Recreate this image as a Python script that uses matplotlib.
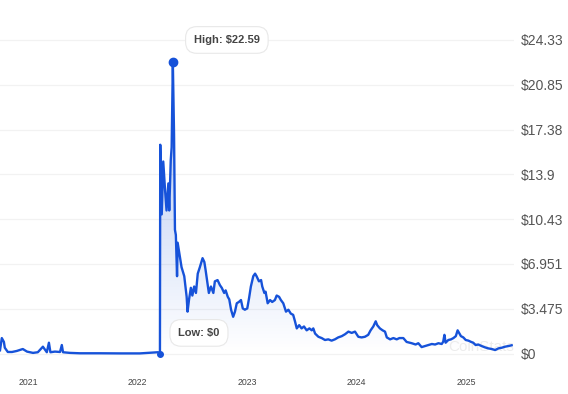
import matplotlib
matplotlib.use('Agg')
import numpy as np
import pandas as pd
import matplotlib.pyplot as plt
import matplotlib.dates as mdates
from matplotlib.patches import Polygon

plt.rcParams['font.family'] = ['Liberation Sans', 'DejaVu Sans']

# price history
dates = [
    '2020-09-30', '2020-10-06', '2020-10-13', '2020-10-16', '2020-10-26', '2020-11-09',
    '2020-11-25', '2020-12-15', '2020-12-29', '2021-01-18', '2021-02-03', '2021-02-20',
    '2021-02-27', '2021-03-05', '2021-03-12', '2021-03-17', '2021-04-01', '2021-04-18',
    '2021-04-24', '2021-04-28', '2021-05-21', '2021-06-23', '2021-08-29', '2021-11-04',
    '2022-01-09', '2022-03-10', '2022-03-17', '2022-03-18', '2022-03-23', '2022-03-28',
    '2022-04-03', '2022-04-08', '2022-04-14', '2022-04-17', '2022-04-22', '2022-04-25',
    '2022-04-29', '2022-05-03', '2022-05-06', '2022-05-09', '2022-05-13', '2022-05-15',
    '2022-05-19', '2022-05-28', '2022-06-06', '2022-06-14', '2022-06-17', '2022-06-22',
    '2022-06-28', '2022-07-03', '2022-07-09', '2022-07-15', '2022-07-21', '2022-07-28',
    '2022-08-06', '2022-08-12', '2022-08-16', '2022-08-22', '2022-08-27', '2022-09-03',
    '2022-09-11', '2022-09-16', '2022-09-25', '2022-10-03', '2022-10-09', '2022-10-17',
    '2022-10-22', '2022-10-29', '2022-11-03', '2022-11-09', '2022-11-16', '2022-11-22',
    '2022-11-28', '2022-12-05', '2022-12-12', '2022-12-18', '2022-12-25', '2023-01-02',
    '2023-01-08', '2023-01-14', '2023-01-22', '2023-01-28', '2023-02-02', '2023-02-10',
    '2023-02-17', '2023-02-21', '2023-02-28', '2023-03-04', '2023-03-11', '2023-03-19',
    '2023-03-26', '2023-04-04', '2023-04-10', '2023-04-18', '2023-04-24', '2023-05-02',
    '2023-05-11', '2023-05-19', '2023-05-27', '2023-06-04', '2023-06-10', '2023-06-16',
    '2023-06-24', '2023-07-02', '2023-07-10', '2023-07-19', '2023-07-28', '2023-08-05',
    '2023-08-10', '2023-08-16', '2023-08-27', '2023-09-07', '2023-09-18', '2023-09-29',
    '2023-10-10', '2023-10-21', '2023-11-01', '2023-11-13', '2023-11-24', '2023-12-05',
    '2023-12-16', '2023-12-27', '2024-01-07', '2024-01-18', '2024-01-29', '2024-02-09',
    '2024-02-17', '2024-02-26', '2024-03-05', '2024-03-10', '2024-03-19', '2024-03-28',
    '2024-04-05', '2024-04-11', '2024-04-22', '2024-05-03', '2024-05-14', '2024-05-23',
    '2024-06-05', '2024-06-16', '2024-07-03', '2024-07-16', '2024-07-25', '2024-08-05',
    '2024-08-16', '2024-08-27', '2024-09-08', '2024-09-19', '2024-09-30', '2024-10-11',
    '2024-10-16', '2024-10-20', '2024-10-24', '2024-11-02', '2024-11-11', '2024-11-19',
    '2024-11-27', '2024-12-03', '2024-12-09', '2024-12-14', '2024-12-22', '2024-12-30',
    '2025-01-08', '2025-01-17', '2025-01-24', '2025-02-01', '2025-02-10', '2025-02-21',
    '2025-03-04', '2025-03-15', '2025-03-27', '2025-04-07', '2025-04-18', '2025-04-29',
    '2025-05-10', '2025-05-21', '2025-06-01',
]
prices = [
    0.25, 1.2, 0.9, 0.45, 0.12, 0.12,
    0.2, 0.35, 0.15, 0.05, 0.1, 0.53,
    0.3, 0.1, 0.84, 0.1, 0.15, 0.12,
    0.66, 0.1, 0.05, 0.02, 0.02, 0.01,
    0.01, 0.1, 0.02, 16.2, 10.8, 14.9,
    12.7, 11.1, 13.2, 11.1, 15.0, 16.0,
    22.59, 17.0, 9.6, 9.2, 6.0, 8.6,
    8.0, 6.7, 6.0, 4.4, 3.25, 4.2,
    5.1, 4.5, 5.2, 4.7, 6.2, 6.7,
    7.4, 7.1, 6.5, 5.5, 4.7, 5.2,
    4.7, 5.6, 5.7, 5.3, 5.1, 4.7,
    4.9, 4.4, 4.2, 3.4, 2.85, 3.25,
    3.9, 4.0, 4.15, 3.5, 3.4, 3.5,
    4.3, 5.2, 6.0, 6.2, 6.0, 5.6,
    5.7, 5.2, 4.7, 4.8, 3.9, 4.15,
    4.0, 4.15, 4.5, 4.4, 4.15, 3.9,
    3.25, 3.4, 3.1, 3.0, 2.5, 1.95,
    2.2, 1.95, 2.1, 1.8, 1.95, 1.8,
    1.95, 1.55, 1.3, 1.2, 1.05, 1.1,
    1.0, 1.1, 1.25, 1.35, 1.5, 1.7,
    1.6, 1.7, 1.3, 1.25, 1.3, 1.45,
    1.8, 2.1, 2.5, 2.2, 1.95, 1.8,
    1.7, 1.25, 1.1, 1.2, 1.1, 1.2,
    1.2, 0.9, 0.8, 0.7, 0.8, 0.5,
    0.58, 0.66, 0.74, 0.7, 0.8, 0.74,
    0.92, 1.45, 0.84, 1.05, 1.1, 1.2,
    1.35, 1.8, 1.55, 1.35, 1.25, 1.05,
    1.0, 0.9, 0.84, 0.66, 0.7, 0.58,
    0.48, 0.4, 0.35, 0.27, 0.4, 0.45,
    0.53, 0.58, 0.64,
]
y_ticks = [0, 3.475, 6.951, 10.43, 13.9, 17.38, 20.85, 24.33]
y_labels = ['$0', '$3.475', '$6.951', '$10.43', '$13.9', '$17.38', '$20.85', '$24.33']
year_ticks = ['2021-01-01', '2022-01-01', '2023-01-01', '2024-01-01', '2025-01-01']
year_labels = ['2021', '2022', '2023', '2024', '2025']
high_date, high_price = '2022-04-29', 22.59
low_date, low_price = '2022-03-17', 0.0

x = mdates.date2num(pd.to_datetime(dates))
y = np.array(prices)
line_color = '#1652d9'

fig = plt.figure(figsize=(5.68, 3.94), dpi=100)
ax = fig.add_axes([0, 0.0736, 0.905, 0.8629])

xmin = mdates.date2num(pd.Timestamp('2020-09-30'))
xmax = mdates.date2num(pd.Timestamp('2025-06-09'))
ax.set_xlim(xmin, xmax)
ax.set_ylim(-0.89, 25.49)

# gradient fill under the line
verts = np.vstack([np.column_stack([x, y]), [[x[-1], 0], [x[0], 0]]])
poly = Polygon(verts, closed=True, facecolor='none', edgecolor='none')
ax.add_patch(poly)
grad = np.zeros((256, 2, 4))
grad[..., 0] = 22 / 255
grad[..., 1] = 82 / 255
grad[..., 2] = 217 / 255
grad[..., 3] = np.linspace(0.36, 0.0, 256)[:, None]
im = ax.imshow(grad, aspect='auto', extent=[xmin, xmax, 0, 22.59],
               origin='upper', zorder=1, interpolation='bilinear')
im.set_clip_path(poly)

ax.plot(x, y, color=line_color, lw=1.7, zorder=3, solid_joinstyle='round')

hx = mdates.date2num(pd.Timestamp(high_date))
lx = mdates.date2num(pd.Timestamp(low_date))
ax.plot([hx], [high_price], 'o', color=line_color, ms=6, zorder=4)
ax.plot([lx], [low_price], 'o', color=line_color, ms=4, zorder=4)

box = dict(boxstyle='round,pad=0.75,rounding_size=1.0', fc='white', ec='#e8e8e8', lw=0.8)
ax.text(mdates.date2num(pd.Timestamp('2022-10-26')), 24.33, 'High: $22.59',
        fontsize=8, fontweight='bold', color='#444444', ha='center', va='center',
        bbox=box, zorder=5)
ax.text(mdates.date2num(pd.Timestamp('2022-07-25')), 1.6, 'Low: $0',
        fontsize=8, fontweight='bold', color='#444444', ha='center', va='center',
        bbox=box, zorder=5)

# faint watermark
ax.text(mdates.date2num(pd.Timestamp('2024-11-01')), 0.5, 'CoinStats',
        fontsize=11, color='#ececec', ha='left', va='center', zorder=2)

ax.set_yticks(y_ticks)
ax.set_yticklabels(y_labels)
ax.set_xticks(mdates.date2num(pd.to_datetime(year_ticks)))
ax.set_xticklabels(year_labels)
ax.yaxis.tick_right()
ax.tick_params(axis='y', length=0, pad=5, labelsize=10, labelcolor='#555555')
ax.tick_params(axis='x', length=0, pad=9, labelsize=6.3, labelcolor='#444444')
ax.grid(axis='y', color='#f2f2f2', lw=0.9)
ax.set_axisbelow(True)
for s in ax.spines.values():
    s.set_visible(False)

fig.savefig('out.png', dpi=100)
